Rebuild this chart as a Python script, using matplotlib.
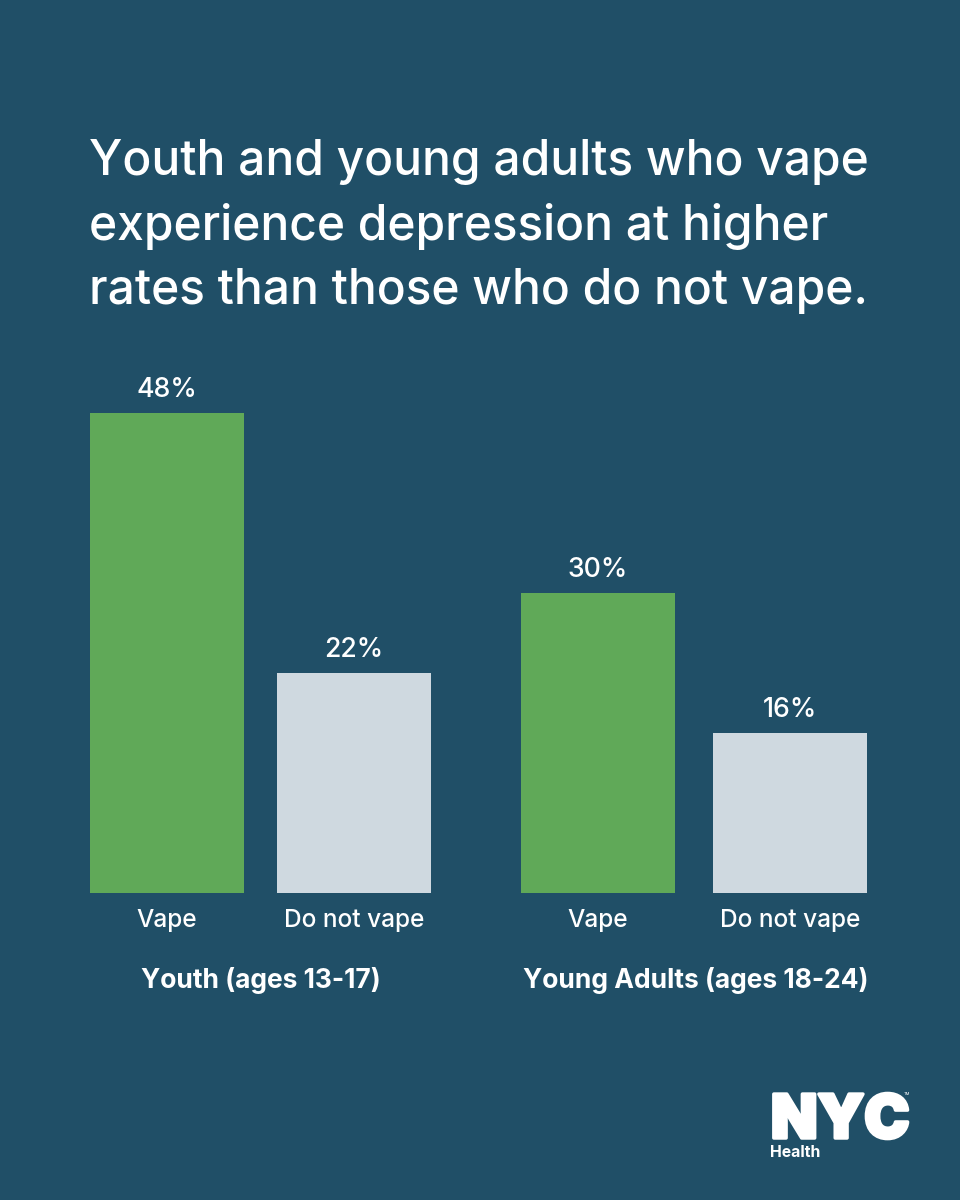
import matplotlib
matplotlib.use("Agg")
import matplotlib.pyplot as plt
import matplotlib.patheffects as pe

BG = "#204f67"
GREEN = "#60a958"
GREY = "#cfd9e0"

title_lines = ["Youth and young adults who vape",
               "experience depression at higher",
               "rates than those who do not vape."]
groups = ["Youth (ages 13-17)", "Young Adults (ages 18-24)"]
categories = ["Vape", "Do not vape", "Vape", "Do not vape"]
values = [48, 22, 30, 16]
bar_left_px = [90, 277, 521, 713]
bar_colors = [GREEN, GREY, GREEN, GREY]

plt.rcParams['font.family'] = ['Inter', 'Open Sans', 'DejaVu Sans']
fig = plt.figure(figsize=(9.6, 12), dpi=100, facecolor=BG)

ax = fig.add_axes([0, (1200-893)/1200, 1, 893/1200])
ax.set_xlim(0, 960)
ax.set_ylim(0, 89.3)
ax.axis("off")

w = 154
for x, v, c, cat in zip(bar_left_px, values, bar_colors, categories):
    ax.bar(x, v, width=w, align="edge", color=c, linewidth=0)
    ax.annotate(f"{v}%", (x + w/2, v), xytext=(0, 10), textcoords="offset pixels",
                ha="center", va="bottom", color="white", fontsize=19.2, fontweight="medium")
    fig.text((x + w/2)/960, 1-920/1200, cat, ha="center", va="center",
             color="white", fontsize=17.6, fontweight="medium")

fig.text(261/960, 1-981/1200, groups[0], ha="center", va="center",
         color="white", fontsize=19, fontweight="bold")
fig.text(695.5/960, 1-981/1200, groups[1], ha="center", va="center",
         color="white", fontsize=19, fontweight="bold")

for line, y in zip(title_lines, [162, 227, 291]):
    fig.text(89/960, 1-y/1200, line, ha="left", va="center",
             color="white", fontsize=34.5, fontweight="medium")

# NYC Health logo
fig.text(771/960, 1-1138/1200, "NYC", ha="left", va="baseline", color="white",
         fontsize=43.5, fontweight="black",
         path_effects=[pe.withStroke(linewidth=2.5, foreground="white")])
fig.text(907/960, 1-1094/1200, "TM", ha="center", va="center", color="white", fontsize=3)
fig.text(770/960, 1-1157/1200, "Health", ha="left", va="baseline", color="white",
         fontsize=11.4, fontweight="bold")

fig.savefig("out.png", dpi=100, facecolor=BG)
